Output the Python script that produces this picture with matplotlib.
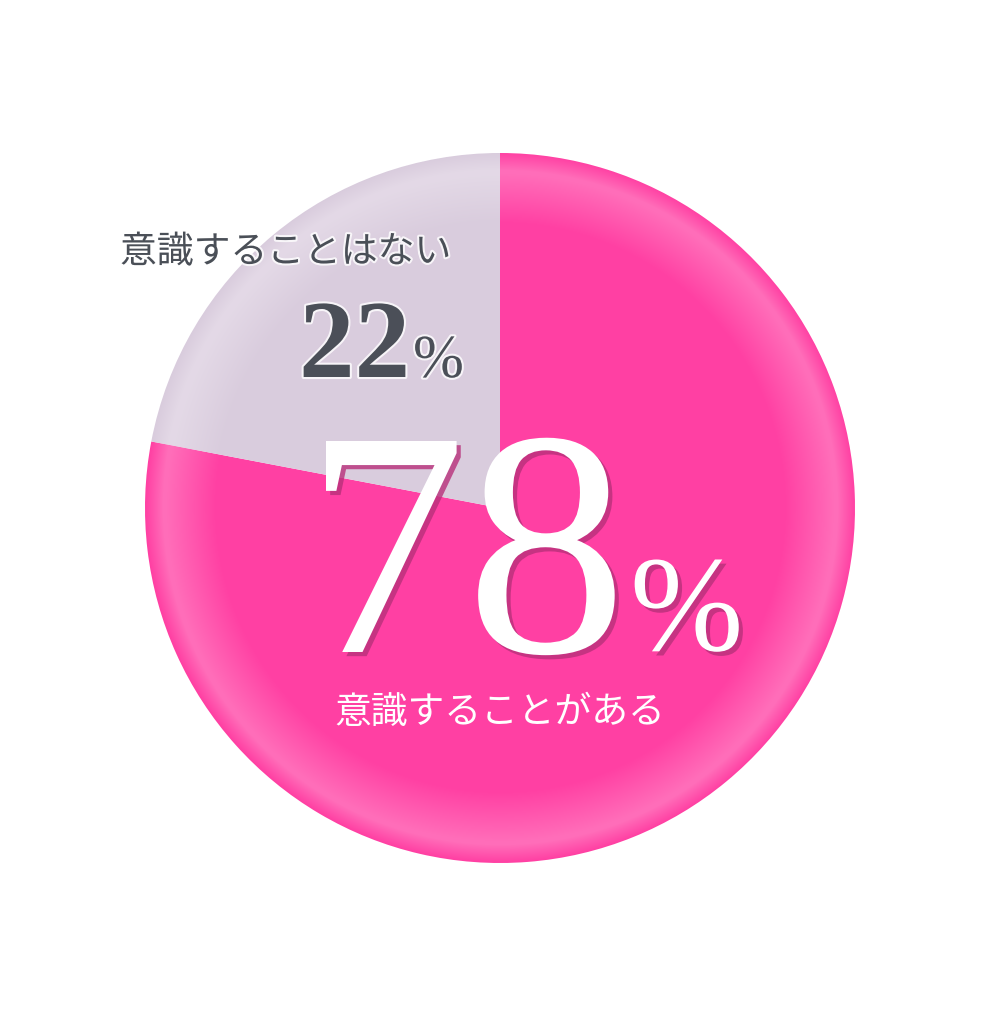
import numpy as np
import matplotlib.pyplot as plt
import matplotlib.patheffects as pe

# --- データ ---
labels = ['意識することがある', '意識することはない']
values = [78, 22]
colors = ['#FF40A3', '#D9CCDD']

W, H = 1000, 1019
cx, cy, r = 500, H - 508, 355

fig = plt.figure(figsize=(W / 100, H / 100), dpi=100)
ax = fig.add_axes([0, 0, 1, 1])
ax.set_xlim(0, W)
ax.set_ylim(0, H)
ax.set_aspect('equal')
ax.axis('off')

wedges, _ = ax.pie(values, colors=colors, startangle=90, counterclock=False,
                   center=(cx, cy), radius=r, wedgeprops=dict(linewidth=0))
ax.set_xlim(0, W)
ax.set_ylim(0, H)

# 縁の立体感（放射状グラデーション）
yy, xx = np.mgrid[0:H, 0:W]
d = np.sqrt((xx - cx) ** 2 + (yy - cy) ** 2) / r
rim = np.clip((d - 0.80) / 0.14, 0, 1) * np.clip((1.0 - d) / 0.05, 0, 1)
for w, c, a in zip(wedges, ['#FF8CC8', '#EEE6F0'], [0.6, 0.5]):
    rgba = np.zeros((H, W, 4))
    rgba[..., :3] = plt.matplotlib.colors.to_rgb(c)
    rgba[..., 3] = rim * a
    im = ax.imshow(rgba, extent=(0, W, 0, H), origin='lower', zorder=2)
    im.set_clip_path(w)

# --- ラベル ---
jp = ['Noto Sans CJK JP', 'DejaVu Sans']
serif = ['Liberation Serif', 'DejaVu Serif']
glow = [pe.withStroke(linewidth=3, foreground='white', alpha=0.8)]
shadow = [pe.withSimplePatchShadow(offset=(3, -3), shadow_rgbFace='#B8307A', alpha=0.8)]

ax.text(120, H - 252, labels[1], family=jp, fontsize=26.5, color='#4A4F57',
        ha='left', va='center', zorder=5, path_effects=glow)
ax.text(410, H - 377, f'{values[1]}', family=serif, fontsize=80, fontweight='bold',
        color='#4B4F58', ha='right', va='baseline', zorder=5, path_effects=glow)
ax.text(413, H - 377, '%', family=serif, fontsize=44, color='#4B4F58',
        ha='left', va='baseline', zorder=5, path_effects=glow)

ax.text(627, H - 652, f'{values[0]}', family=serif, fontsize=232, color='white',
        ha='right', va='baseline', zorder=5, path_effects=shadow)
ax.text(630, H - 650, '%', family=serif, fontsize=98, color='white',
        ha='left', va='baseline', zorder=5, path_effects=shadow)
ax.text(500, H - 712, labels[0], family=jp, fontsize=26.5, color='white',
        ha='center', va='center', zorder=5)

fig.savefig('out.png', dpi=100)
